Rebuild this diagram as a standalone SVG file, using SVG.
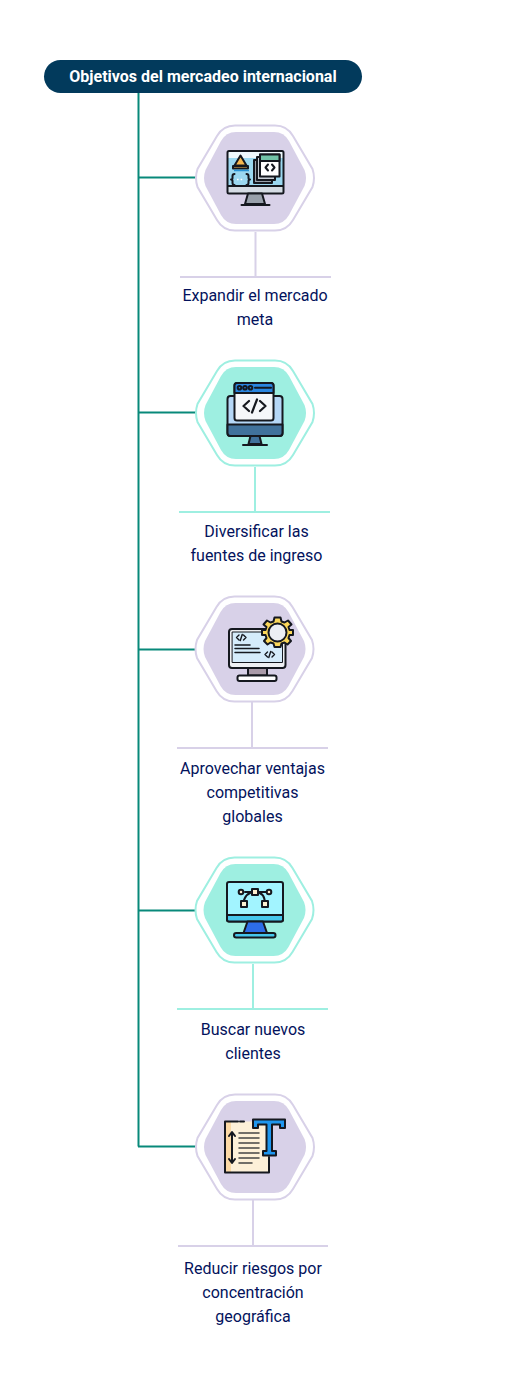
<svg xmlns="http://www.w3.org/2000/svg" width="505" height="1382" viewBox="0 0 505 1382">
<style>
.lab{font:16px Roboto,"Liberation Sans",sans-serif;fill:#03125c;text-anchor:middle}
.title{font:700 16px Roboto,"Liberation Sans",sans-serif;fill:#fff;text-anchor:middle}
.conn{stroke:#08897a;stroke-width:2;fill:none}
.o-p{fill:#fff;stroke:#d8d1e8;stroke-width:2}
.i-p{fill:#d8d1e8}
.o-t{fill:#fff;stroke:#9eefe1;stroke-width:2}
.i-t{fill:#9eefe1}
.s-p{stroke:#d8d1e8;stroke-width:2;fill:none}
.s-t{stroke:#9eefe1;stroke-width:2;fill:none}
.k{stroke:#15181f;stroke-width:2;stroke-linejoin:round;stroke-linecap:round}
.n{fill:none;stroke:#15181f;stroke-width:2;stroke-linecap:round;stroke-linejoin:round}
</style>
<defs>
<path id="ho" d="M-20-52.500H20Q32-52.500 38-42L57.500-9Q60.500 0 57.500 9L38 42Q32 52.500 20 52.500H-20Q-32 52.500-38 42L-57.500 9Q-60.500 0-57.500-9L-38-42Q-32-52.500-20-52.500Z"/>
<path id="hi" d="M-19-46H19Q29-46 34-37L49.500-8Q52.500 0 49.500 8L34 37Q29 46 19 46H-19Q-29 46-34 37L-49.500 8Q-52.500 0-49.500-8L-34-37Q-29-46-19-46Z"/>
</defs>
<rect width="505" height="1382" fill="#fff"/>
<g id="connectors">
<path class="conn" d="M138.500 93V1146.500M138 177.500H196M138 412.500H196M138 649.500H196M138 910.500H196M138 1146.500H196"/>
<path class="s-p" d="M255.500 232V277M180 277H331M252 702V748M177 748H328M253 1200V1246M178 1246H328"/>
<path class="s-t" d="M255 467V512M179 512H330M253 964V1009M177 1009H328"/>
</g>
<g id="title"><rect x="44" y="60" width="318" height="33" rx="16.500" fill="#023a5c"/><text class="title" x="203" y="82">Objetivos del mercadeo internacional</text></g>

<g id="node1">
<use href="#ho" x="255" y="178" class="o-p"/><use href="#hi" x="255" y="178" class="i-p"/>
<rect x="227.500" y="151" width="56" height="42.500" rx="1.500" fill="#9bd8f0"/>
<rect x="228" y="152" width="55" height="6" fill="#eef8fc"/>
<rect x="228" y="186" width="55" height="7" fill="#d5dce4"/>
<rect x="227.500" y="151" width="56" height="42.500" rx="1.500" class="n"/>
<path d="M228 186H283" class="n"/>
<path d="M248 193.500H262L265 204H245Z" fill="#98a0aa" class="k"/>
<path d="M241.500 205H269.500" class="n"/>
<path d="M240.500 155.500L246.500 165.500H234.500Z" fill="#f8b84e" class="k"/>
<path d="M233 166H248V168.500H233Z" fill="#f8b84e" class="k"/>
<path d="M234 170.500H249" stroke="#2a94d6" stroke-width="1.500"/>
<path d="M234.500 174Q232.500 174 232.500 176V178Q232.500 179.500 231 179.500Q232.500 179.500 232.500 181V183Q232.500 185 234.500 185M246.500 174Q248.500 174 248.500 176V178Q248.500 179.500 250 179.500Q248.500 179.500 248.500 181V183Q248.500 185 246.500 185" class="n"/>
<path d="M237 179.500H244" stroke="#fff" stroke-width="1.600" stroke-dasharray="1.600 2"/>
<rect x="254" y="160" width="18" height="23" fill="#98a0aa" class="k"/>
<rect x="257" y="157" width="18" height="23" fill="#c9ced6" class="k"/>
<rect x="260" y="154.500" width="19.500" height="22" fill="#fff" class="k"/>
<rect x="260" y="154.500" width="19.500" height="6.500" fill="#72c4a8" class="k"/>
<path d="M268 164.500L265.500 167.500L268 170.500M272 164.500L274.500 167.500L272 170.500" class="n"/>
</g>
<g id="label1"><text class="lab" x="255" y="301">Expandir el mercado</text><text class="lab" x="255" y="325">meta</text></g>

<g id="node2">
<use href="#ho" x="255" y="413" class="o-t"/><use href="#hi" x="255" y="413" class="i-t"/>
<rect x="227.500" y="396" width="55" height="40" rx="3" fill="#b5d7f7" class="k"/>
<path d="M227.500 424.500H282.500V433Q282.500 436 279.500 436H230.500Q227.500 436 227.500 433Z" fill="#41729c" class="k"/>
<path d="M250.500 436H259.500L261.500 444H248.500Z" fill="#41729c" class="k"/>
<path d="M243 445H267" class="n"/>
<rect x="234.500" y="383" width="39" height="37.500" rx="2.500" fill="#f5f7fa" class="k"/>
<path d="M234.500 393V385.500Q234.500 383 237 383H271Q273.500 383 273.500 385.500V393Z" fill="#2a86e0" class="k"/>
<circle cx="239.500" cy="387.800" r="1.800" fill="#2a86e0" class="k"/><circle cx="245" cy="387.800" r="1.800" fill="#2a86e0" class="k"/><circle cx="250.500" cy="387.800" r="1.800" fill="#2a86e0" class="k"/>
<path d="M255 387.800H271" class="n"/>
<path d="M249 401L243.500 406L249 411M260 401L265.500 406L260 411M257 399.500L252 412.500" fill="none" stroke="#15181f" stroke-width="2.200" stroke-linecap="round" stroke-linejoin="round"/>
</g>
<g id="label2"><text class="lab" x="256.500" y="537">Diversificar las</text><text class="lab" x="256.500" y="561">fuentes de ingreso</text></g>

<g id="node3">
<use href="#ho" x="254.500" y="649" class="o-p"/><use href="#hi" x="254.500" y="649" class="i-p"/>
<rect x="229" y="629" width="56.500" height="39" rx="3" fill="#eef0f3" class="k"/>
<rect x="232.500" y="632" width="50" height="30.500" fill="#d5ecfb"/>
<path d="M232.500 632H282.500V662.500H232.500Z" class="n" style="stroke-width:1"/>
<rect x="248" y="668" width="19" height="7.500" fill="#a99aa8" class="k"/>
<rect x="237.500" y="675.500" width="39" height="5.500" rx="2" fill="#fff" class="k"/>
<path d="M235 645H250M235 648.500H259M235 652.500H260" class="n" style="stroke-width:1.500"/>
<path d="M239 635L236.500 637.500L239 640M243.500 635L246 637.500L243.500 640M242.200 634.500L240.300 640.500" class="n" style="stroke-width:1.400"/>
<path d="M267.500 652L265 654.500L267.500 657M272 652L274.500 654.500L272 657M270.700 651.500L268.800 657.500" class="n" style="stroke-width:1.400"/>
<g transform="translate(277.500 632)">
<path d="M-3-14.500H3L4-10.500L7-9.500L10.500-11.500L14-7.500L11-5L12-2H15.500V3H12L11 6L13.500 9L10 12.500L7 10.500L4 11.500L3 15H-3L-4 11.500L-7 10.500L-10 12.500L-13.500 9L-11 6L-12 3H-15.500V-2H-12L-11-5L-14-7.500L-10.500-11.500L-7-9.500L-4-10.500Z" fill="#fbd75a" class="k"/>
<circle cx="0" cy="0.500" r="9" fill="#eceef3" class="k"/>
</g>
</g>
<g id="label3"><text class="lab" x="252.500" y="774">Aprovechar ventajas</text><text class="lab" x="252.500" y="798">competitivas</text><text class="lab" x="252.500" y="822">globales</text></g>

<g id="node4">
<use href="#ho" x="254.500" y="910" class="o-t"/><use href="#hi" x="254.500" y="910" class="i-t"/>
<rect x="227" y="882" width="56" height="39.500" rx="2" fill="#a2f4ff" class="k"/>
<path d="M227 915H283V919.500Q283 921.500 281 921.500H229Q227 921.500 227 919.500Z" fill="#45c6ec" class="k"/>
<path d="M247.500 921.500H263L267 933H243.500Z" fill="#2d6de8" class="k"/>
<rect x="234" y="933" width="41.500" height="4.500" rx="2.200" fill="#45c6ec" class="k"/>
<path d="M245 892H251M259 892H267M243 904Q245 892 255 892Q265 892 265 904" class="n"/>
<circle cx="241" cy="892" r="2.300" fill="#fdf0d0" class="k"/><circle cx="269" cy="892" r="2.300" fill="#fdf0d0" class="k"/>
<rect x="252" y="889" width="6" height="6" fill="#fdf0d0" class="k"/>
<rect x="241" y="901" width="6" height="6" fill="#fdf0d0" class="k"/>
<rect x="262" y="901" width="6" height="6" fill="#fdf0d0" class="k"/>
</g>
<g id="label4"><text class="lab" x="253" y="1035">Buscar nuevos</text><text class="lab" x="253" y="1059">clientes</text></g>

<g id="node5">
<use href="#ho" x="255" y="1147" class="o-p"/><use href="#hi" x="255" y="1147" class="i-p"/>
<path d="M225 1121.500H269V1172.500H225Z" fill="#fdf0d8"/>
<path d="M225 1121.500H231V1172.500H225Z" fill="#fbd9a5"/>
<path d="M238 1121.500H225V1172.500H269V1157" class="n"/>
<path d="M240 1121.500H244" class="n"/>
<path d="M239 1133H259M239 1138H259M239 1143H259M239 1148H259M239 1153H259M239 1158H259M239 1163H252" class="n" style="stroke:#444;stroke-width:1.500"/>
<path d="M232 1133V1162M229 1136L232 1132L235 1136M229 1159L232 1163L235 1159" class="n"/>
<path d="M253 1119.500H285V1128H280V1124.500H272V1151H276V1155.500H263V1151H266.500V1124.500H258V1128H253Z" fill="#1e96ee" class="k"/>
</g>
<g id="label5"><text class="lab" x="253" y="1274">Reducir riesgos por</text><text class="lab" x="253" y="1298">concentración</text><text class="lab" x="253" y="1322">geográfica</text></g>
</svg>
